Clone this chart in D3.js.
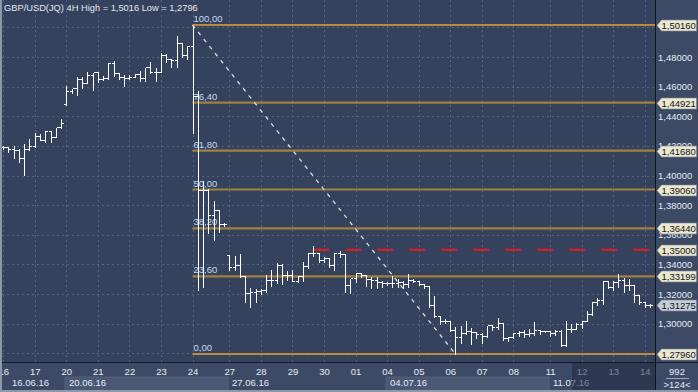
<!DOCTYPE html>
<html>
<head>
<meta charset="utf-8">
<script src="https://cdn.jsdelivr.net/npm/d3@7"></script>
<style>
  body { margin: 0; background: #3c4a66; }
  svg { display: block; }
  text { font-family: 'Liberation Sans', Arial, sans-serif; }
</style>
</head>
<body>
<svg id="chart" width="698" height="392"></svg>
<script>
// GBP/USD 4H bars, 16.06.16 - 14.07.16
const dayLabels = ['16','17','20','21','22','23','24','27','28','29','30','01','04','05','06','07','08','11','12','13','14']
const dayStart = [0,6,12,18,24,30,36,43,49,55,61,67,73,79,85,91,97,104,110,116,122]
const weekLabels = ['16.06.16','20.06.16','27.06.16','04.07.16','11.07.16']
const weekStart = [0,12,43,73,104]

const open = [1.4193,1.4193,1.4179,1.4172,1.4118,1.4179,1.4200,1.4267,1.4240,1.4300,1.4260,1.4328,
  1.4483,1.4570,1.4591,1.4652,1.4625,1.4678,1.4699,1.4652,1.4658,1.4760,1.4692,1.4665,
  1.4658,1.4665,1.4685,1.4658,1.4733,1.4699,1.4699,1.4813,1.4786,1.4780,1.4894,1.4813,
  1.4874,1.4537,1.3903,1.3903,1.3734,1.3768,1.3673,
  1.3464,1.3383,1.3396,1.3322,1.3208,1.3214,1.3221,1.3228,1.3295,1.3295,1.3396,1.3329,
  1.3329,1.3288,1.3322,1.3390,1.3478,1.3478,1.3430,1.3444,1.3396,1.3478,1.3471,1.3261,
  1.3309,1.3342,1.3329,1.3302,1.3295,1.3282,1.3275,1.3275,1.3275,1.3282,1.3268,1.3295,
  1.3288,1.3268,1.3255,1.3126,1.3052,1.3018,1.3018,1.2958,1.2910,1.2938,1.2951,1.2944,
  1.2931,1.2917,1.2992,1.2978,1.3005,1.2904,1.2910,1.2938,1.2944,1.2931,1.2938,1.2958,1.2951,
  1.2951,1.2938,1.2951,1.2856,1.2965,1.2965,1.2998,1.3018,1.3066,1.3147,1.3160,1.3288,
  1.3248,1.3282,1.3295,1.3261,1.3261,1.3194,1.3147,1.3126]
const high = [1.4206,1.4200,1.4206,1.4186,1.4220,1.4253,1.4294,1.4287,1.4307,1.4302,1.4328,1.4388,
  1.4611,1.4591,1.4672,1.4672,1.4705,1.4699,1.4703,1.4678,1.4766,1.4780,1.4695,1.4685,
  1.4685,1.4692,1.4712,1.4733,1.4773,1.4733,1.4834,1.4827,1.4790,1.4948,1.4901,1.4881,
  1.5016,1.4577,1.3970,1.3916,1.3835,1.3768,1.3687,
  1.3464,1.3464,1.3478,1.3329,1.3248,1.3241,1.3241,1.3336,1.3369,1.3417,1.3410,1.3363,
  1.3369,1.3329,1.3423,1.3484,1.3532,1.3480,1.3457,1.3450,1.3484,1.3498,1.3473,1.3309,
  1.3349,1.3349,1.3331,1.3322,1.3322,1.3295,1.3288,1.3329,1.3309,1.3295,1.3342,1.3309,
  1.3290,1.3270,1.3261,1.3194,1.3059,1.3039,1.3025,1.2985,1.2992,1.3025,1.2978,1.2946,
  1.2944,1.2992,1.2998,1.3046,1.3007,1.2917,1.2944,1.2958,1.2965,1.2971,1.3018,1.2965,1.2958,
  1.2958,1.2965,1.2965,1.3025,1.3005,1.3012,1.3025,1.3093,1.3153,1.3180,1.3295,1.3295,
  1.3295,1.3342,1.3315,1.3309,1.3263,1.3201,1.3149,1.3140]
const low = [1.4179,1.4159,1.4118,1.4092,1.4004,1.4172,1.4193,1.4240,1.4226,1.4226,1.4260,1.4321,
  1.4476,1.4557,1.4543,1.4591,1.4625,1.4577,1.4632,1.4645,1.4652,1.4672,1.4652,1.4604,
  1.4652,1.4665,1.4638,1.4638,1.4692,1.4638,1.4699,1.4766,1.4733,1.4733,1.4800,1.4786,
  1.4287,1.3228,1.3248,1.3613,1.3565,1.3619,1.3660,
  1.3363,1.3363,1.3315,1.3147,1.3113,1.3147,1.3201,1.3214,1.3255,1.3275,1.3268,1.3295,
  1.3288,1.3282,1.3288,1.3376,1.3457,1.3417,1.3417,1.3383,1.3363,1.3450,1.3214,1.3208,
  1.3282,1.3315,1.3255,1.3241,1.3241,1.3248,1.3261,1.3248,1.3248,1.3241,1.3248,1.3282,
  1.3261,1.3241,1.3113,1.3046,1.2998,1.3005,1.2951,1.2796,1.2870,1.2931,1.2863,1.2904,
  1.2870,1.2910,1.2958,1.2965,1.2890,1.2883,1.2904,1.2917,1.2910,1.2917,1.2924,1.2931,1.2944,
  1.2917,1.2924,1.2850,1.2850,1.2944,1.2965,1.2971,1.3018,1.3059,1.3126,1.3133,1.3241,
  1.3228,1.3248,1.3214,1.3228,1.3147,1.3133,1.3113,1.3113]
const close = [1.4193,1.4179,1.4172,1.4118,1.4179,1.4200,1.4267,1.4240,1.4300,1.4260,1.4328,1.4355,
  1.4570,1.4591,1.4652,1.4625,1.4678,1.4699,1.4652,1.4658,1.4760,1.4692,1.4665,1.4658,
  1.4665,1.4685,1.4658,1.4733,1.4699,1.4699,1.4813,1.4786,1.4780,1.4894,1.4813,1.4874,
  1.4537,1.3903,1.3903,1.3734,1.3768,1.3673,1.3673,
  1.3383,1.3396,1.3322,1.3208,1.3214,1.3221,1.3228,1.3295,1.3295,1.3396,1.3329,1.3329,
  1.3288,1.3322,1.3390,1.3478,1.3478,1.3430,1.3444,1.3396,1.3478,1.3471,1.3261,1.3309,
  1.3342,1.3329,1.3302,1.3295,1.3282,1.3275,1.3275,1.3275,1.3282,1.3268,1.3295,1.3288,
  1.3268,1.3255,1.3126,1.3052,1.3018,1.3018,1.2958,1.2910,1.2938,1.2951,1.2944,1.2931,
  1.2917,1.2992,1.2978,1.3005,1.2904,1.2910,1.2938,1.2944,1.2931,1.2938,1.2958,1.2951,1.2951,
  1.2938,1.2951,1.2856,1.2965,1.2965,1.2998,1.3018,1.3066,1.3147,1.3160,1.3288,1.3248,
  1.3282,1.3295,1.3261,1.3261,1.3194,1.3147,1.3126,1.31275]

const HIGH = 1.5016
const LOW = 1.2796
const HIGH_INDEX = 36
const LOW_INDEX = 86
const fibPercents = [0, 23.6, 38.2, 50, 61.8, 76.4, 100]
const alertLevel = 1.35
const alertStart = 59
const priceTicks = [1.28, 1.30, 1.32, 1.34, 1.36, 1.38, 1.40, 1.42, 1.44, 1.46, 1.48, 1.50]

const PLOT_LEFT = 2
const PLOT_RIGHT = 655
const PLOT_BOTTOM = 362
const PLOT_BG = '#35425e'
const PANEL_BG = '#3c4a66'

var svg = d3.select('#chart')
var x = d3.scaleLinear().domain([0, 123]).range([3.2, 650])
var y = d3.scaleLinear().domain([LOW, HIGH]).range([354, 25])
var px = function (v) { return Math.round(v) + 0.5 }
var fmt5 = function (v) { return v.toFixed(5).replace('.', ',') }

// backgrounds
svg.append('rect').attr('width', 698).attr('height', 392).attr('fill', PANEL_BG)
svg.append('rect').attr('x', PLOT_LEFT).attr('y', 0)
  .attr('width', PLOT_RIGHT - PLOT_LEFT).attr('height', PLOT_BOTTOM).attr('fill', PLOT_BG)

svg.append('clipPath').attr('id', 'plotClip').append('rect')
  .attr('x', PLOT_LEFT).attr('y', 0).attr('width', PLOT_RIGHT - PLOT_LEFT).attr('height', PLOT_BOTTOM)
var plot = svg.append('g').attr('clip-path', 'url(#plotClip)')

// grid
plot.selectAll('line.hgrid').data(priceTicks).enter().append('line')
  .attr('x1', PLOT_LEFT).attr('x2', PLOT_RIGHT)
  .attr('y1', function (d) { return px(y(d)) }).attr('y2', function (d) { return px(y(d)) })
  .attr('stroke', '#55637f').attr('stroke-dasharray', '2,3')
plot.selectAll('line.vgrid').data(dayStart).enter().append('line')
  .attr('x1', function (d) { return px(x(d)) }).attr('x2', function (d) { return px(x(d)) })
  .attr('y1', 0).attr('y2', PLOT_BOTTOM)
  .attr('stroke', '#55637f').attr('stroke-dasharray', '2,3')

// title
svg.append('text').text('GBP/USD(JQ) 4H High = 1,5016 Low = 1,2796')
  .attr('x', 4).attr('y', 11).attr('font-size', '9.3px').attr('fill', '#e2e8f0')

// fibonacci retracement
var fib = fibPercents.map(function (p) { return { pct: p, price: LOW + (HIGH - LOW) * p / 100 } })
plot.selectAll('line.fib').data(fib).enter().append('line')
  .attr('x1', x(HIGH_INDEX)).attr('x2', PLOT_RIGHT)
  .attr('y1', function (d) { return y(d.price) }).attr('y2', function (d) { return y(d.price) })
  .attr('stroke', function (d) { return (d.pct === 0 || d.pct === 100) ? '#e9a032' : '#a1803f' })
  .attr('stroke-width', function (d) { return (d.pct === 0 || d.pct === 100) ? 1.4 : 2.2 })
plot.selectAll('text.fib').data(fib).enter().append('text')
  .text(function (d) { return d.pct.toFixed(2).replace('.', ',') })
  .attr('x', x(HIGH_INDEX) + 1).attr('y', function (d) { return y(d.price) - 3 })
  .attr('font-size', '9.5px').attr('fill', '#c2d8f2')

plot.append('line')
  .attr('x1', x(HIGH_INDEX)).attr('y1', y(HIGH))
  .attr('x2', x(LOW_INDEX)).attr('y2', y(LOW))
  .attr('stroke', '#dcdcdc').attr('stroke-width', 1.3).attr('stroke-dasharray', '4,5')

plot.append('line')
  .attr('x1', x(alertStart)).attr('x2', PLOT_RIGHT + 20)
  .attr('y1', y(alertLevel)).attr('y2', y(alertLevel))
  .attr('stroke', '#e51a1a').attr('stroke-width', 2).attr('stroke-dasharray', '16,16')

// OHLC bars
var bars = d3.range(open.length)
plot.selectAll('path.bar').data(bars).enter().append('path')
  .attr('d', function (i) {
    var cx = px(x(i))
    return 'M' + cx + ',' + px(y(high[i])) + 'V' + px(y(low[i])) +
      'M' + (cx - 2.6) + ',' + px(y(open[i])) + 'H' + cx +
      'M' + cx + ',' + px(y(close[i])) + 'H' + (cx + 2.6)
  })
  .attr('stroke', '#ffffff').attr('fill', 'none').attr('stroke-width', 1)
  .attr('shape-rendering', 'crispEdges')

// price tags
var tags = fib.map(function (d) { return { price: d.price, current: false } })
tags.push({ price: alertLevel, current: false })
tags.push({ price: close[close.length - 1], current: true })

// right price axis (labels sitting fully under a tag are hidden)
var yAxis = d3.axisRight(y).tickValues(priceTicks).tickSize(0).tickPadding(3).tickFormat(fmt5)
var gy = svg.append('g').attr('transform', 'translate(' + PLOT_RIGHT + ',0)').call(yAxis)
gy.select('.domain').remove()
gy.selectAll('text').attr('font-size', '9.5px').attr('fill', '#e4ebf4')
  .attr('font-family', "'Liberation Sans', Arial, sans-serif")
gy.selectAll('.tick').filter(function (d) {
  return tags.some(function (t) { return Math.abs(y(t.price) - y(d)) < 4 })
}).remove()

var tag = svg.selectAll('g.tag').data(tags).enter().append('g')
  .attr('transform', function (d) { return 'translate(0,' + Math.round(y(d.price)) + ')' })
tag.append('path')
  .attr('d', 'M657,0.5L661.5,-5L696.5,-5L696.5,6L661.5,6Z')
  .attr('fill', function (d) { return d.current ? '#c4ccd8' : '#ebe8d2' })
  .attr('stroke', '#7d8696').attr('stroke-width', 0.6)
tag.append('text').text(function (d) { return fmt5(d.price) })
  .attr('x', 661.5).attr('y', 4).attr('font-size', '9.5px').attr('fill', '#151515')

// bottom time axis
var axisTop = PLOT_BOTTOM + 1
svg.append('clipPath').attr('id', 'axisClip').append('rect')
  .attr('x', PLOT_LEFT).attr('y', axisTop).attr('width', PLOT_RIGHT - PLOT_LEFT).attr('height', 30)
var bottom = svg.append('g').attr('clip-path', 'url(#axisClip)')

bottom.selectAll('rect.week').data(weekStart.filter(function (d, i) { return i % 2 === 1 }))
  .enter().append('rect')
  .attr('x', function (d) { return Math.round(x(d)) - 1 })
  .attr('width', function (d) { return Math.round(x(weekStart[weekStart.indexOf(d) + 1])) - Math.round(x(d)) })
  .attr('y', 377).attr('height', 14)
  .attr('fill', '#4a5873').attr('stroke', '#58667f').attr('stroke-width', 0.8)

var xAxis = d3.axisBottom(x).tickValues(dayStart).tickSize(0).tickPadding(5.5)
  .tickFormat(function (d, i) { return dayLabels[i] })
var gx = bottom.append('g').attr('transform', 'translate(0,' + axisTop + ')').call(xAxis)
gx.select('.domain').remove()
gx.selectAll('text').attr('font-size', '9.5px').attr('fill', '#e4ebf4')
  .attr('font-family', "'Liberation Sans', Arial, sans-serif")

bottom.selectAll('text.week').data(weekStart).enter().append('text')
  .text(function (d, i) { return weekLabels[i] })
  .attr('x', function (d, i) { return i === 0 ? 12 : Math.round(x(d)) + 3 })
  .attr('y', 386).attr('font-size', '9.5px').attr('fill', '#e4ebf4')

// shaded tail of the time axis
bottom.append('rect').attr('x', 572).attr('y', axisTop).attr('width', PLOT_RIGHT - 572).attr('height', 28)
  .attr('fill', '#1f2a42').attr('opacity', 0.55)

// separators and frame
svg.append('line').attr('x1', 0).attr('x2', 698).attr('y1', PLOT_BOTTOM + 0.5).attr('y2', PLOT_BOTTOM + 0.5)
  .attr('stroke', '#141a26')
svg.append('line').attr('x1', PLOT_RIGHT + 0.5).attr('x2', PLOT_RIGHT + 0.5).attr('y1', 0).attr('y2', 392)
  .attr('stroke', '#10141c')
svg.append('rect').attr('x', 0).attr('y', 0).attr('width', 2).attr('height', 392).attr('fill', '#8d98a8')
svg.append('rect').attr('x', 0).attr('y', 390).attr('width', 698).attr('height', 2).attr('fill', '#8d98a8')

// corner counter
svg.append('text').text('992').attr('x', 677).attr('y', 375).attr('text-anchor', 'middle')
  .attr('font-size', '9.5px').attr('fill', '#e4ebf4')
svg.append('line').attr('x1', 666).attr('x2', 689).attr('y1', 378.5).attr('y2', 378.5)
  .attr('stroke', '#9aa6ba')
svg.append('text').text('>124<').attr('x', 677).attr('y', 388).attr('text-anchor', 'middle')
  .attr('font-size', '9.5px').attr('fill', '#e4ebf4')
</script>
</body>
</html>
